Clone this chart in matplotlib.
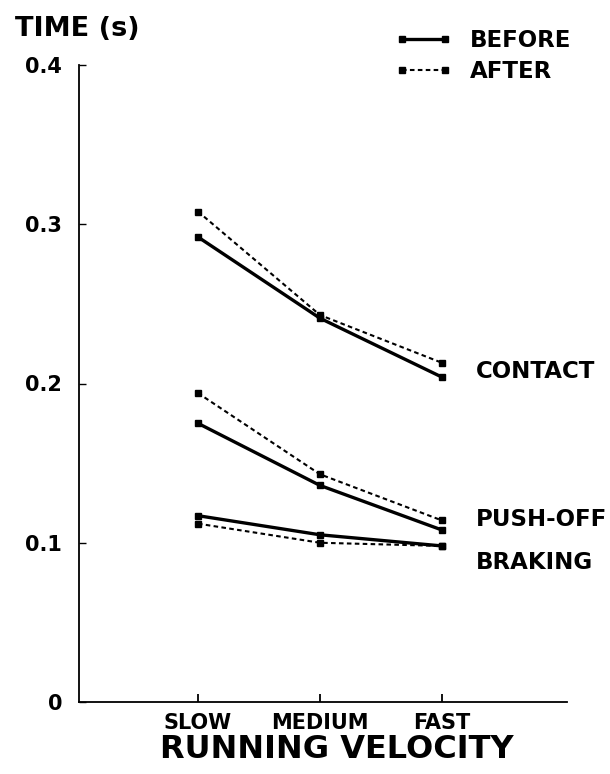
import matplotlib
matplotlib.use("Agg")
import matplotlib.pyplot as plt

plt.rcParams["font.family"] = ["DejaVu Sans"]
plt.rcParams["font.weight"] = "bold"

# running velocity categories
velocities = ["SLOW", "MEDIUM", "FAST"]
x_pos = [1, 2, 3]

# phase durations (s)
contact_before = [0.292, 0.241, 0.204]
contact_after = [0.308, 0.243, 0.213]
pushoff_before = [0.175, 0.136, 0.108]
pushoff_after = [0.194, 0.143, 0.114]
braking_before = [0.117, 0.105, 0.098]
braking_after = [0.112, 0.100, 0.098]

phase_labels = ["CONTACT", "PUSH-OFF", "BRAKING"]
phase_label_y = [0.2074, 0.1143, 0.0873]

y_ticks = [0, 0.1, 0.2, 0.3, 0.4]
y_ticklabels = ["0", "0.1", "0.2", "0.3", "0.4"]

fig = plt.figure(figsize=(6.1, 7.74), dpi=100)
ax = fig.add_axes([79 / 610, 1 - 702 / 774, 488 / 610, 637 / 774])

# solid = before, dotted = after
solid = dict(color="black", lw=2.4, marker="s", ms=5, solid_capstyle="round")
dotted = dict(color="black", lw=1.5, ls=(0, (2.2, 1.6)), marker="s", ms=5)

ax.plot(x_pos, contact_before, label="BEFORE", **solid)
ax.plot(x_pos, contact_after, label="AFTER", **dotted)
ax.plot(x_pos, pushoff_before, **solid)
ax.plot(x_pos, pushoff_after, **dotted)
ax.plot(x_pos, braking_before, **solid)
ax.plot(x_pos, braking_after, **dotted)

for lab, yy in zip(phase_labels, phase_label_y):
    ax.text(3.28, yy, lab, fontsize=16.5, fontweight="bold", va="center", ha="left")

ax.set_xlim(0.025, 4.025)
ax.set_ylim(0, 0.4)
ax.set_xticks(x_pos)
ax.set_xticklabels(velocities, fontsize=15, fontweight="bold")
ax.set_yticks(y_ticks)
ax.set_yticklabels(y_ticklabels, fontsize=15, fontweight="bold")
ax.tick_params(axis="x", direction="in", length=6, width=1.3, pad=8)
ax.tick_params(axis="y", direction="in", length=5, width=1.0, pad=12)

for side in ["top", "right"]:
    ax.spines[side].set_visible(False)
for side in ["left", "bottom"]:
    ax.spines[side].set_linewidth(1.3)

ax.set_xlabel("RUNNING VELOCITY", fontsize=23, fontweight="bold")
ax.xaxis.set_label_coords((337 - 79) / 488, -0.05)

fig.text(15 / 610, 1 - 29 / 774, "TIME (s)", fontsize=19.5, fontweight="bold",
         ha="left", va="center")

ax.legend(loc="upper left", bbox_to_anchor=(395 / 610, 1 - 29 / 774),
          bbox_transform=fig.transFigure, frameon=False,
          handlelength=2.5, handletextpad=0.75, labelspacing=0.35,
          borderpad=0, borderaxespad=0, numpoints=2,
          prop={"weight": "bold", "size": 16.5})

fig.savefig("out.png", dpi=100)
